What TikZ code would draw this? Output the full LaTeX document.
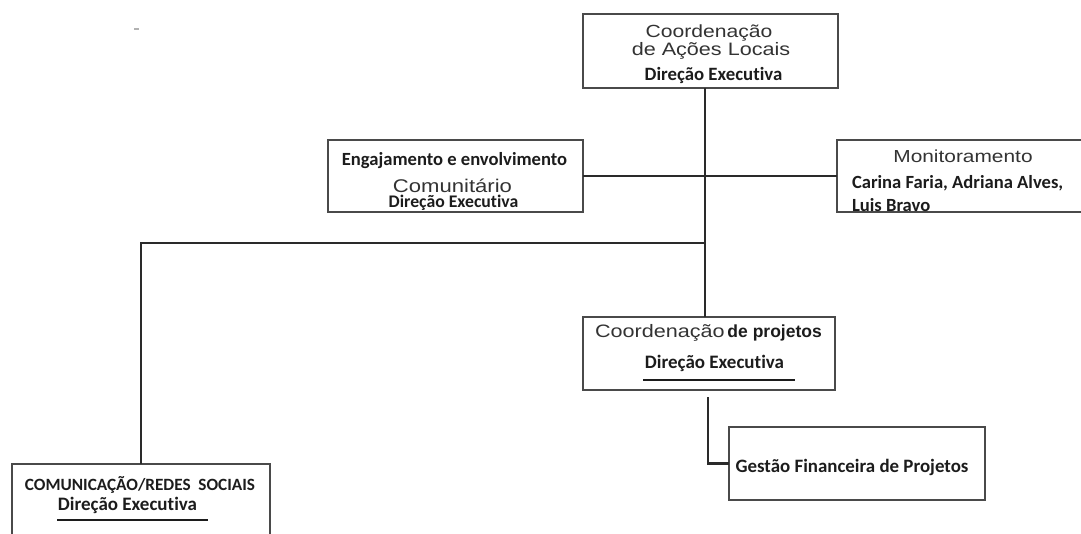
\documentclass[tikz,border=0pt]{standalone}
\usepackage{fontspec}
\setmainfont{Liberation Sans}
\newfontfamily\regf{Liberation Sans}[FakeStretch=1.2]
\newfontfamily\wbf{Liberation Sans}
\newfontfamily\bldf{Carlito}[Ligatures={NoCommon}]
\newcommand{\R}[2]{{\regf\fontsize{#1}{#1}\selectfont #2}}
\newcommand{\Bc}[2]{{\bldf\bfseries\fontsize{#1}{#1}\selectfont #2}}
\definecolor{boxc}{HTML}{4A4A4A}
\definecolor{linec}{HTML}{2A2A2A}
\definecolor{regc}{HTML}{333333}
\definecolor{bldc}{HTML}{1C1C1C}
\tikzset{
  box/.style={draw=boxc, line width=1.8pt, fill=none, inner sep=0pt, outer sep=0pt},
  conn/.style={draw=linec, line width=2.4pt},
  txt/.style={inner sep=0pt, outer sep=0pt, anchor=base, text=bldc},
  uline/.style={draw=bldc, line width=1.1pt}
}
\begin{document}
\begin{tikzpicture}[x=1pt,y=-1pt]
\useasboundingbox (0,0) rectangle (1081,533);
% stray mark
\fill[gray!60] (134,28) rectangle (139,30);
% boxes
\node[box, minimum width=255pt, minimum height=74pt] (t) at (710.5,51) {};
\node[box, minimum width=255pt, minimum height=72pt] (e) at (455.5,176) {};
\node[box, minimum width=258pt, minimum height=72pt] (m) at (966,176) {};
\node[box, minimum width=252pt, minimum height=73pt] (p) at (709,353.5) {};
\node[box, minimum width=256pt, minimum height=73pt] (g) at (857,463.5) {};
\node[box, minimum width=258pt, minimum height=81pt] (c) at (141,504.5) {};
% connectors
\coordinate (spine) at (705,0);
\coordinate (j) at (705,243);
\coordinate (gs) at (708,397);
\draw[conn] (spine |- t.south) -- (spine |- p.north);
\draw[conn] (e.east) -- (m.west);
\draw[conn] (j) -| (c.north);
\draw[conn] (gs) |- (g.west);
% top box texts
\node[txt, text=regc] (t1) at (709,37) {\R{17.6}{Coordenação}};
\node[txt, text=regc] (t2) at (711,55) {\R{18}{de Ações Locais}};
\node[txt] (t3) at (713.5,80) {\Bc{18.8}{Direção Executiva}};
% engajamento
\node[txt] (e1) at (454.5,165) {\Bc{18.6}{Engajamento e envolvimento}};
\node[txt, text=regc] (e2) at (452.5,192) {\R{18.4}{Comunitário}};
\node[txt] (e3) at (453.5,207) {\Bc{17.7}{Direção Executiva}};
% monitoramento
\node[txt, text=regc] (m1) at (963,162) {\R{17.4}{Monitoramento}};
\node[txt, anchor=base west] (m2) at (852,188) {\Bc{18.6}{Carina Faria, Adriana Alves,}};
\node[txt, anchor=base west] (m3) at (852,211) {\Bc{18.6}{Luis Bravo}};
% projetos
\node[txt, anchor=base west] (p1) at (595,337) {{\color{regc}\R{18}{Coordenação}} {\wbf\bfseries\fontsize{17.5}{17.5}\selectfont de projetos}};
\node[txt] (p2) at (714.5,368) {\Bc{19}{Direção Executiva}};
\draw[uline] (643,380) -- (795,380);
% gestao
\node[txt] (g1) at (852,472) {\Bc{18.9}{Gestão Financeira de Projetos}};
% comunicacao
\node[txt] (c1) at (140,490) {\Bc{17.2}{COMUNICAÇÃO/REDES\ \ SOCIAIS}};
\node[txt] (c2) at (127.5,510) {\Bc{19}{Direção Executiva}};
\draw[uline] (57,520) -- (208,520);
\end{tikzpicture}
\end{document}
